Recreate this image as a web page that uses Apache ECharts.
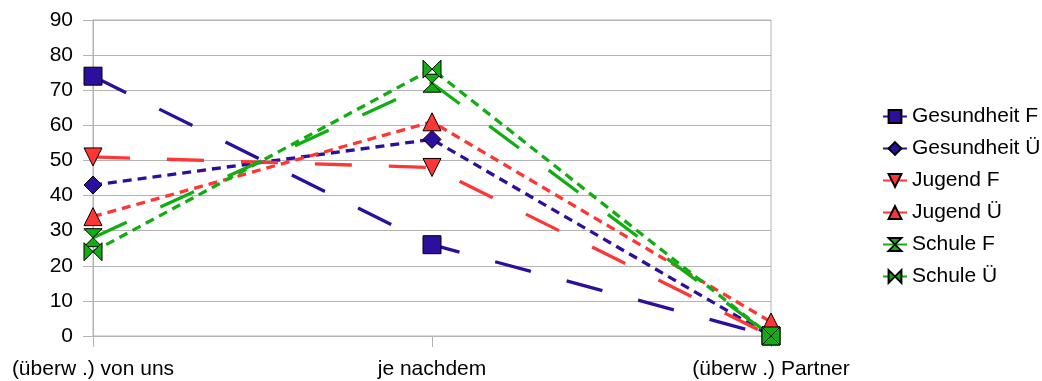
<!DOCTYPE html>
<html>
<head>
<meta charset="utf-8">
<script src="https://cdn.jsdelivr.net/npm/echarts@6/dist/echarts.min.js"></script>
<style>html,body{margin:0;padding:0;background:#fff}#c{width:1042px;height:381px}</style>
</head>
<body>
<div id="c"></div>
<script>
const categories = ['(überw .) von uns', 'je nachdem', '(überw .) Partner'];
const gesundheitF = [74, 26, 0];
const gesundheitU = [43, 56, 0];
const jugendF = [51, 48, 0];
const jugendU = [34, 61, 4];
const schuleF = [28, 72, 0];
const schuleU = [24, 76, 0];
const seriesNames = ['Gesundheit F', 'Gesundheit Ü', 'Jugend F', 'Jugend Ü', 'Schule F', 'Schule Ü'];

const BLUE = '#2c0f9c', RED = '#ff3636', GREEN = '#12ad12';
const LONG = [37, 37], SHORT = [9, 6];
const HOURGLASS = 'path://M0,0 L10,0 L0,10 L10,10 Z';
const BOWTIE = 'path://M0,0 L10,10 L10,0 L0,10 Z';

function mk(name, data, color, dash, symbol, size, rotate) {
  return {
    name, type: 'line', data,
    symbol, symbolSize: size, symbolRotate: rotate || 0,
    showAllSymbol: true,
    lineStyle: { color, width: 3.3, type: dash, cap: 'butt' },
    itemStyle: { color, borderColor: '#000', borderWidth: 1 },
    emphasis: { disabled: true },
    animation: false
  };
}

const chart = echarts.init(document.getElementById('c'), null, { renderer: 'canvas' });
chart.setOption({
  backgroundColor: '#fff',
  animation: false,
  textStyle: { fontFamily: 'Liberation Sans, Arial, sans-serif' },
  grid: { left: 93, right: 271, top: 20, bottom: 45, show: true, borderColor: '#b3b3b3', borderWidth: 1, containLabel: false },
  legend: {
    orient: 'vertical', left: 877, top: 101,
    itemWidth: 24, itemHeight: 16, itemGap: 11,
    textStyle: { fontSize: 21, color: '#000', lineHeight: 21, fontFamily: 'Liberation Sans' },
    data: seriesNames
  },
  xAxis: {
    type: 'category', data: categories, boundaryGap: false,
    axisLine: { lineStyle: { color: '#b3b3b3' } },
    axisTick: { show: true, length: 11, lineStyle: { color: '#b3b3b3' } },
    axisLabel: { fontSize: 21, color: '#000', margin: 23, fontFamily: 'Liberation Sans' },
    splitLine: { show: false }
  },
  yAxis: {
    type: 'value', min: 0, max: 90, interval: 10,
    axisLine: { show: true, lineStyle: { color: '#b3b3b3' } },
    axisTick: { show: true, length: 10, lineStyle: { color: '#b3b3b3' } },
    axisLabel: { fontSize: 21, color: '#000', margin: 20, fontFamily: 'Liberation Sans' },
    splitLine: { show: true, lineStyle: { color: '#b3b3b3' } }
  },
  series: [
    mk(seriesNames[0], gesundheitF, BLUE, LONG, 'rect', 18),
    mk(seriesNames[1], gesundheitU, BLUE, SHORT, 'diamond', 18),
    mk(seriesNames[2], jugendF, RED, LONG, 'triangle', 18, 180),
    mk(seriesNames[3], jugendU, RED, SHORT, 'triangle', 18),
    mk(seriesNames[4], schuleF, GREEN, LONG, HOURGLASS, 18),
    mk(seriesNames[5], schuleU, GREEN, SHORT, BOWTIE, 18)
  ]
});
</script>
</body>
</html>
